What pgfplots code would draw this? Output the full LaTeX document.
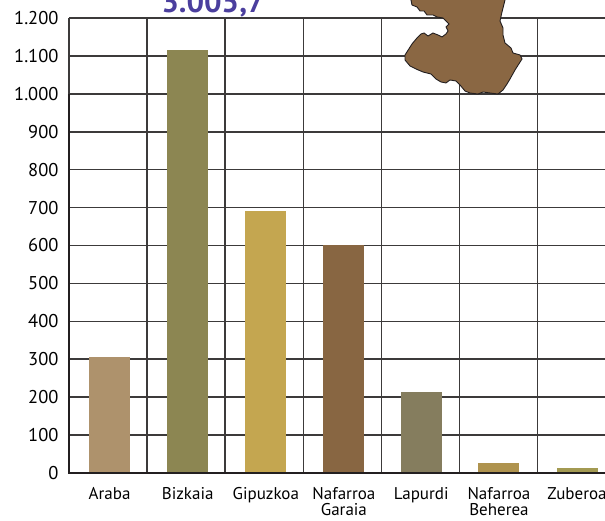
\documentclass[border=0pt]{standalone}
\usepackage{fontspec}
\setmainfont{PT Sans}
\usepackage{pgfplots}
\pgfplotsset{compat=1.18}
\definecolor{gl}{HTML}{3C3A3A}
\definecolor{axk}{HTML}{231F20}
\definecolor{cA}{HTML}{AE926C}
\definecolor{cB}{HTML}{8C8652}
\definecolor{cG}{HTML}{C4A650}
\definecolor{cN}{HTML}{886642}
\definecolor{cL}{HTML}{857D5E}
\definecolor{cH}{HTML}{AF934E}
\definecolor{cZ}{HTML}{A39A52}
\definecolor{mapc}{HTML}{8A6743}
\definecolor{titc}{HTML}{4B3F9E}
\pgfplotstableread{
x y
0.52 306
}\tA
\pgfplotstableread{
x y
1.52 1115
}\tB
\pgfplotstableread{
x y
2.52 691
}\tG
\pgfplotstableread{
x y
3.52 601
}\tN
\pgfplotstableread{
x y
4.51 214
}\tL
\pgfplotstableread{
x y
5.505 26
}\tH
\pgfplotstableread{
x y
6.505 13
}\tZ
\begin{document}
\begin{tikzpicture}[x=1pt,y=1pt]
\path[use as bounding box] (0,0) rectangle (605,521);
\clip (0,0) rectangle (605,521);
\begin{axis}[
  at={(69pt,48pt)}, anchor=origin,
  scale only axis, width=536pt, height=455pt,
  xmin=0, xmax=6.863, ymin=0, ymax=1200,
  axis line style={draw=none},
  tick style={draw=none},
  clip=false,
  xtick={0.52,1.52,2.52,3.52,4.51,5.505,6.505},
  xticklabels={Araba,Bizkaia,Gipuzkoa,{Nafarroa\\Garaia},Lapurdi,{Nafarroa\\Beherea},Zuberoa},
  xticklabel style={align=center,font=\fontsize{17}{16}\selectfont,yshift=-11pt,text depth=0pt},
  minor xtick={0,1,2,3,4,5,6},
  xminorgrids=true,
  minor grid style={draw=gl,line width=1.6pt},
  ytick={0,100,...,1200},
  ymajorgrids=true,
  major grid style={draw=gl,line width=1.6pt},
  yticklabel style={font=\fontsize{18.5}{18.5}\selectfont,xshift=-7pt},
  /pgf/number format/assume math mode=true,
  /pgf/number format/1000 sep={.},
  every axis plot/.append style={ybar,bar shift=0pt,bar width=41pt,draw=none},
]
\addplot[fill=cA] table {\tA};
\addplot[fill=cB] table {\tB};
\addplot[fill=cG] table {\tG};
\addplot[fill=cN] table {\tN};
\addplot[fill=cL] table {\tL};
\addplot[fill=cH] table {\tH};
\addplot[fill=cZ] table {\tZ};
\draw[axk,line width=2.4pt] (axis cs:0,1000) -- (axis cs:0,0) -- (axis cs:6.863,0);
\draw[gl,line width=1.6pt] (axis cs:0,1200) -- (axis cs:6.863,1200);
\end{axis}
\node[text=titc,font=\bfseries\fontsize{31}{31}\selectfont,anchor=base] at (213,508) {3.005,7};
\begin{scope}[y=-1pt,yshift=521pt]
\fill[mapc,draw=axk,line width=0.9pt]
 (409,-3) -- (411,0) -- (412,5) -- (417,7) -- (420,11) -- (424,11) -- (427,15) -- (433,15) -- (437,17) -- (443,18) -- (447,22) -- (449,24) -- (446,27) -- (448,31) -- (446,34) -- (442,37) -- (438,35) -- (433,33) -- (428,36) -- (424,33) -- (421,34) -- (417,38) -- (412,44) -- (405,55) -- (405,60) -- (410,66) -- (416,69) -- (423,72) -- (431,74) -- (436,79) -- (441,82) -- (446,83) -- (450,80) -- (456,81) -- (460,85) -- (465,91) -- (470,93) -- (478,94) -- (483,92) -- (490,93) -- (498,94) -- (503,90) -- (507,84) -- (510,79) -- (515,70) -- (522,59) -- (520,55) -- (513,53) -- (511,48) -- (505,43) -- (503,35) -- (503,28) -- (500,21) -- (502,12) -- (505,0) -- (505,-3) -- cycle;
\end{scope}
\end{tikzpicture}
\end{document}
